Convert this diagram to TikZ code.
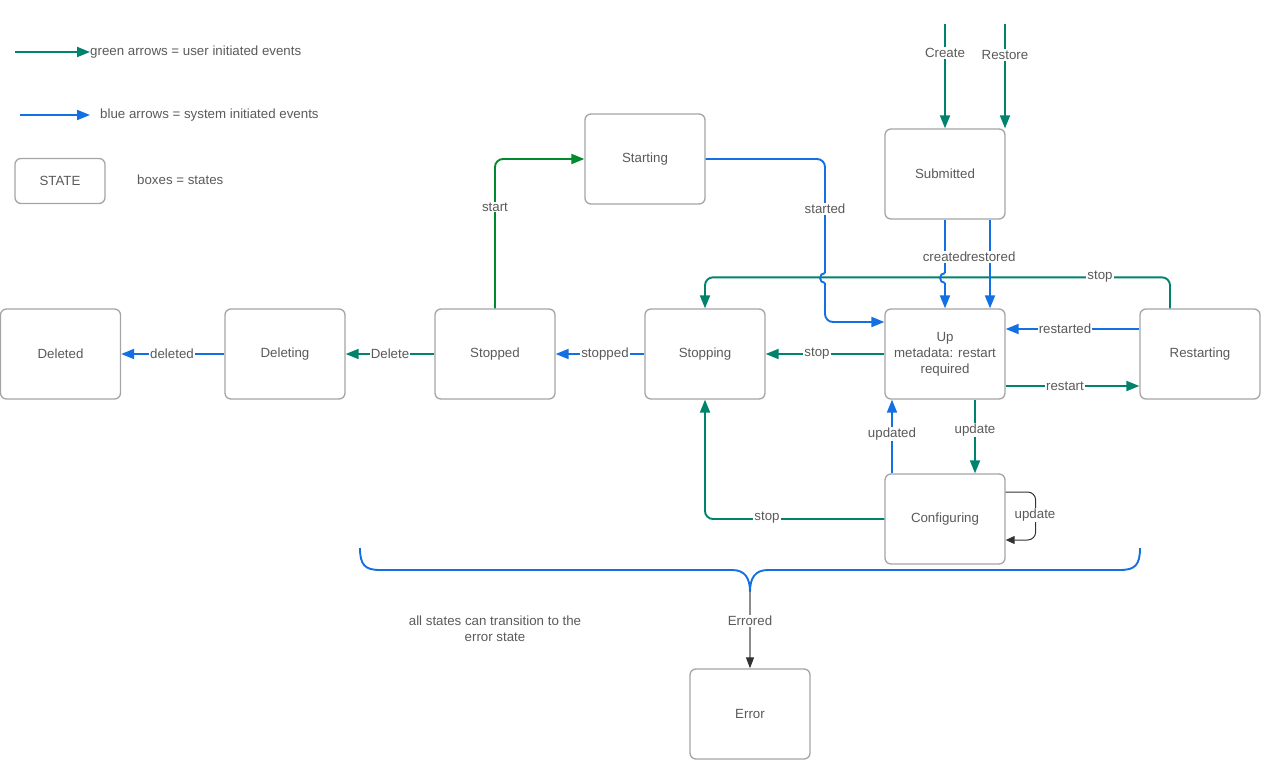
\documentclass[tikz,border=0pt]{standalone}
\usepackage{fontspec}
\setmainfont{Liberation Sans}
\usetikzlibrary{arrows.meta,calc}
\definecolor{teal0}{RGB}{0,130,108}
\definecolor{grn0}{RGB}{0,138,46}
\definecolor{blu0}{RGB}{18,112,226}
\definecolor{txt0}{RGB}{90,90,90}
\definecolor{box0}{RGB}{165,165,165}
\definecolor{dark0}{RGB}{50,50,50}
\definecolor{gline}{RGB}{140,140,140}
\begin{document}
\begin{tikzpicture}[x=1pt,y=-1pt,
  every node/.style={font=\fontsize{13.3}{16}\selectfont, text=txt0},
  state/.style={draw=box0, line width=1.3pt, rounded corners=6pt, minimum width=120pt, minimum height=90pt, align=center, fill=white},
  lbl/.style={fill=white, inner sep=1pt},
  conn/.style={line width=1.9pt, rounded corners=8pt, -{Triangle[length=13pt,width=10pt]}},
  tealc/.style={conn, draw=teal0},
  bluec/.style={conn, draw=blu0},
  plainblue/.style={line width=1.9pt, draw=blu0, rounded corners=8pt},
  legtxt/.style={anchor=west, inner sep=0pt}
]
\useasboundingbox (0,0) rectangle (1274,781);

% legend
\coordinate (lg1) at (15,52);
\node[legtxt] (lgtxt) at (90,52) {green arrows = user initiated events};
\draw[tealc] (lg1) -- (lgtxt.west);
\coordinate (lb1) at (20,115);
\coordinate (lb2) at (90,115);
\node[legtxt] (lbtxt) at (100,115) {blue arrows = system initiated events};
\draw[bluec] (lb1) -- (lb2);
\node[state, minimum width=90pt, minimum height=45pt] (legstate) at (60,181) {STATE};
\node[legtxt] (legbox) at (137,180) {boxes = states};

% states
\node[state] (deleted) at (60.5,354) {Deleted};
\node[state] (deleting) at (285,354) {Deleting};
\node[state] (stopped) at (495,354) {Stopped};
\node[state] (stopping) at (705,354) {Stopping};
\node[state] (up) at (945,354) {Up\\metadata: restart\\required};
\node[state] (restarting) at (1200,354) {Restarting};
\node[state] (starting) at (645,159) {Starting};
\node[state] (submitted) at (945,174) {Submitted};
\node[state] (configuring) at (945,519) {Configuring};
\node[state] (error) at (750,714) {Error};

% top stop line (Restarting -> Stopping)
\draw[tealc] ([xshift=-30pt]restarting.north) -- ++(0,-31) -| (stopping.north);
\node[lbl] (lstop1) at (1100,277) {stop};

% inputs
\coordinate (crtop) at (945,24);
\coordinate (rstop) at (1005,24);
\draw[tealc] (crtop) -- (submitted.north);
\draw[tealc] (rstop) -- (rstop |- submitted.north);
\node[lbl] (lcreate) at (945,53) {Create};
\node[lbl] (lrestore) at (1005,55) {Restore};

% start / started
\draw[conn, draw=grn0] (stopped.north) |- (starting.west);
\node[lbl] (lstart) at (495,207) {start};
\draw[plainblue] (starting.east) -- (825,159) -- (825,273);
\draw[line width=1.9pt, draw=blu0] (825,273) arc[start angle=90, end angle=270, radius=5pt];
\draw[bluec] (825,283) |- ([yshift=32pt]up.west);
\node[lbl] (lstarted) at (825,209) {started};

% created / restored
\draw[plainblue] (submitted.south) -- (945,273);
\draw[line width=1.9pt, draw=blu0] (945,273) arc[start angle=90, end angle=270, radius=5pt];
\draw[bluec] (945,283) -- (up.north);
\draw[bluec] ([xshift=45pt]submitted.south) -- ([xshift=45pt]up.north);
\node[lbl, inner xsep=0pt] (lcreated) at (945,257) {created};
\node[lbl, inner xsep=0pt] (lrestored) at (991,257) {restored};

% horizontal chain
\draw[tealc] (up.west) -- (stopping.east);
\node[lbl] (lstop2) at (817,354) {stop};
\draw[bluec] (stopping.west) -- (stopped.east);
\node[lbl] (lstopped) at (605,354) {stopped};
\draw[tealc] (stopped.west) -- (deleting.east);
\node[lbl] (ldelete) at (390,354) {Delete};
\draw[bluec] (deleting.west) -- (deleted.east);
\node[lbl] (ldeleted) at (172,354) {deleted};

% restart / restarted
\draw[bluec] ([yshift=25pt]restarting.west) -- ([yshift=25pt]up.east);
\node[lbl] (lrestarted) at (1065,329) {restarted};
\draw[tealc] ([yshift=-32pt]up.east) -- ([yshift=-32pt]restarting.west);
\node[lbl] (lrestart) at (1065,386) {restart};

% update / updated
\draw[tealc] ([xshift=30pt]up.south) -- ([xshift=30pt]configuring.north);
\node[lbl] (lupdate) at (975,430) {update};
\draw[bluec] ([xshift=-53pt]configuring.north) -- ([xshift=-53pt]up.south);
\node[lbl] (lupdated) at (892,434) {updated};

% configuring -> stopping
\draw[tealc] (configuring.west) -| (stopping.south);
\node[lbl] (lstop3) at (767,518) {stop};

% self loop
\draw[draw=dark0, line width=1pt, rounded corners=8pt, -{Triangle[length=9pt,width=8pt]}] ([yshift=27pt]configuring.east) -- ++(30,0) |- ([yshift=-21pt]configuring.east);
\node[lbl] (lupdself) at (1035,515) {update};

% brace
\draw[line width=1.9pt, draw=blu0] (360,548) .. controls (360,565) and (365,570) .. (380,570) -- (732,570) .. controls (745,570) and (750,578) .. (750,592) coordinate (brtip);
\draw[line width=1.9pt, draw=blu0] (750,592) .. controls (750,578) and (755,570) .. (768,570) -- (1120,570) .. controls (1135,570) and (1140,565) .. (1140,548);
\draw[draw=gline, line width=1.2pt, -{Triangle[length=11pt,width=8pt,color=dark0]}] (brtip) -- (error.north);
\node[lbl] (lerrored) at (750,621) {Errored};
\node[align=center] (note) at (495,629) {all states can transition to the\\error state};
\end{tikzpicture}
\end{document}
